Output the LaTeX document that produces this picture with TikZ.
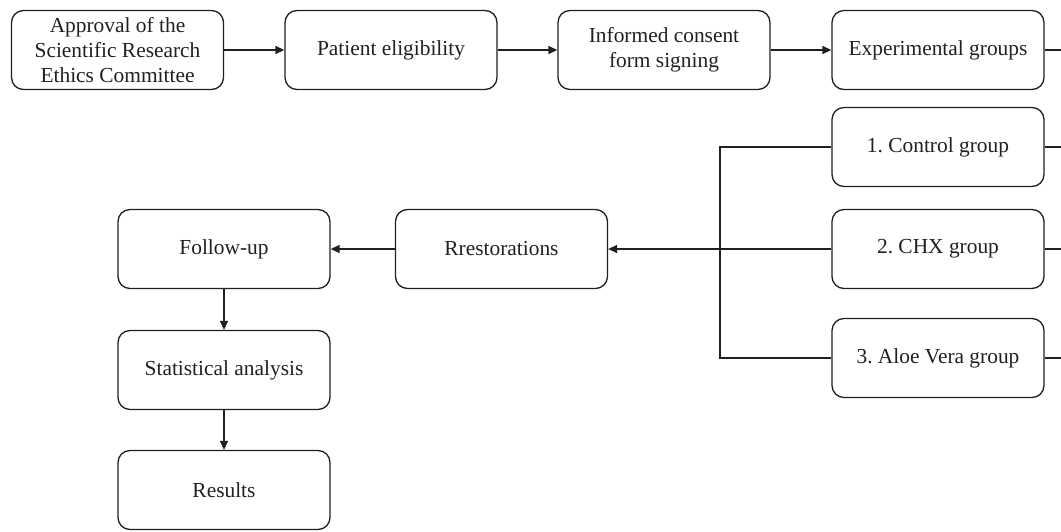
\documentclass[tikz,border=0pt]{standalone}
\usepackage{fontspec}
\setmainfont{Liberation Serif}
\usetikzlibrary{arrows.meta}
\definecolor{ink}{HTML}{231F20}
\frenchspacing
\begin{document}
\begin{tikzpicture}[x=1pt,y=-1pt,
  box/.style={draw=ink, text=ink, line width=1.3pt, rounded corners=12pt,
    minimum width=212pt, minimum height=79pt, align=center, inner sep=2pt,
    font=\fontsize{21.4}{25}\selectfont},
  conn/.style={draw=ink, line width=1.3pt},
  arr/.style={conn, -{Triangle[length=9pt,width=8pt]}}]
\useasboundingbox (0,0) rectangle (1061,531);
\node[box] (approval) at (117.5,50) {Approval of the\\Scientific Research\\Ethics Committee};
\node[box] (elig) at (391,50) {Patient eligibility};
\node[box] (consent) at (664,50) {Informed consent\\form signing};
\node[box] (exp) at (938,50) {Experimental groups};
\node[box] (g1) at (938,147) {1. Control group};
\node[box] (g2) at (938,249) {2. CHX group};
\node[box] (g3) at (938,358) {3. Aloe Vera group};
\node[box] (rest) at (501.5,249) {Rrestorations};
\node[box] (follow) at (224,249) {Follow-up};
\node[box] (stat) at (224,370) {Statistical analysis};
\node[box] (res) at (224,490) {Results};
\coordinate (e0) at (1061,50);
\coordinate (e1) at (1061,147);
\coordinate (e2) at (1061,249);
\coordinate (e3) at (1061,358);
\coordinate (bx) at (720,0);
\draw[arr] (approval) -- (elig);
\draw[arr] (elig) -- (consent);
\draw[arr] (consent) -- (exp);
\draw[conn] (exp.east) -- (e0);
\draw[conn] (g1.east) -- (e1);
\draw[conn] (g2.east) -- (e2);
\draw[conn] (g3.east) -- (e3);
\draw[conn] (g1.west) -- (g1.west -| bx) -- (g3.west -| bx) -- (g3.west);
\draw[arr] (g2.west) -- (rest.east);
\draw[arr] (rest) -- (follow);
\draw[arr] (follow) -- (stat);
\draw[arr] (stat) -- (res);
\end{tikzpicture}
\end{document}
